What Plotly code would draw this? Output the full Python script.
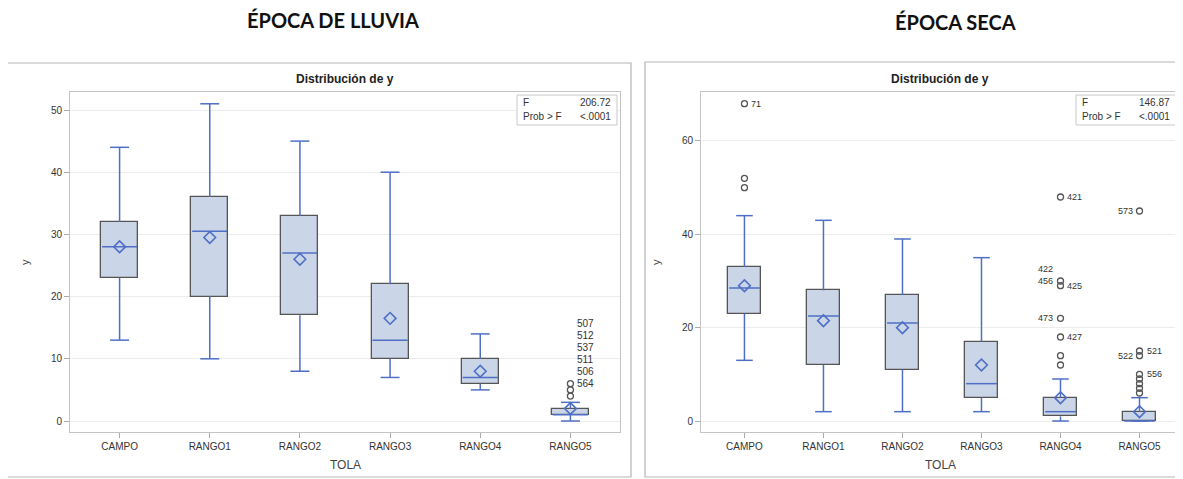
import plotly.graph_objects as go

W, H = 1183, 479
OFF = 8  # page body margin
FW, FH = W - OFF, H - OFF

categories = ["CAMPO", "RANGO1", "RANGO2", "RANGO3", "RANGO4", "RANGO5"]

# ÉPOCA DE LLUVIA
lluvia_max = [44, 51, 45, 40, 14, 3]
lluvia_q3 = [32, 36, 33, 22, 10, 2]
lluvia_med = [28, 30.5, 27, 13, 7, 1]
lluvia_mean = [28, 29.5, 26, 16.5, 8, 2]
lluvia_q1 = [23, 20, 17, 10, 6, 1]
lluvia_min = [13, 10, 8, 7, 5, 0]
lluvia_out_cat = [5, 5, 5]
lluvia_out_val = [4, 5, 6]
lluvia_lab_cat = [5, 5, 5, 5, 5, 5]
lluvia_lab_val = [6, 6, 6, 6, 6, 6]
lluvia_lab_txt = ["564", "506", "511", "537", "512", "507"]
lluvia_lab_side = ["r", "r", "r", "r", "r", "r"]
lluvia_lab_stack = [0, 1, 2, 3, 4, 5]
lluvia_F = "206.72"

# ÉPOCA SECA
seca_max = [44, 43, 39, 35, 9, 5]
seca_q3 = [33, 28, 27, 17, 5, 2]
seca_med = [28.5, 22.5, 21, 8, 2, 0]
seca_mean = [29, 21.5, 20, 12, 5, 2]
seca_q1 = [23, 12, 11, 5, 1, 0]
seca_min = [13, 2, 2, 2, 0, 0]
seca_out_cat = [0, 0, 0, 4, 4, 4, 4, 4, 4, 4, 5, 5, 5, 5, 5, 5, 5, 5]
seca_out_val = [50, 52, 68, 12, 14, 18, 22, 29, 30, 48, 6, 7, 8, 9, 10, 14, 15, 45]
seca_lab_cat = [0, 4, 4, 4, 4, 4, 4, 5, 5, 5, 5]
seca_lab_val = [68, 48, 30, 30, 29, 22, 18, 45, 14, 15, 10]
seca_lab_txt = ["71", "421", "422", "456", "425", "473", "427", "573", "522", "521", "556"]
seca_lab_side = ["r", "r", "l", "l", "r", "l", "r", "l", "l", "r", "r"]
seca_lab_stack = [0, 0, 1, 0, 0, 0, 0, 0, 0, 0, 0]
seca_F = "146.87"

BLUE = "#4f6fc6"
FILL = "#cad5e7"
DARK = "#555555"
AXC = "#c4c4c4"
FONT = "Liberation Sans, Arial, sans-serif"

fig = go.Figure()

BOXW = 0.41
CAPW = 0.21


def add_panel(xa, ya, mx, q3, md, mn, q1, lo, out_c, out_v):
    idx = list(range(len(categories)))
    fig.add_trace(go.Bar(x=idx, y=[a - b for a, b in zip(q3, q1)], base=q1, width=BOXW,
                         marker=dict(color=FILL, line=dict(color=DARK, width=1.3)),
                         xaxis=xa, yaxis=ya, showlegend=False, hoverinfo="skip"))
    wx, wy = [], []
    for i in idx:
        wx += [i, i, None, i, i, None]
        wy += [q3[i], mx[i], None, q1[i], lo[i], None]
        wx += [i - CAPW / 2, i + CAPW / 2, None, i - CAPW / 2, i + CAPW / 2, None]
        wy += [mx[i], mx[i], None, lo[i], lo[i], None]
        wx += [i - BOXW / 2 + 0.01, i + BOXW / 2 - 0.01, None]
        wy += [md[i], md[i], None]
    fig.add_trace(go.Scatter(x=wx, y=wy, mode="lines", line=dict(color=BLUE, width=1.5),
                             xaxis=xa, yaxis=ya, showlegend=False, hoverinfo="skip"))
    fig.add_trace(go.Scatter(x=idx, y=mn, mode="markers",
                             marker=dict(symbol="diamond-open", size=9, color=BLUE,
                                         line=dict(width=1.6, color=BLUE)),
                             xaxis=xa, yaxis=ya, showlegend=False, hoverinfo="skip"))
    fig.add_trace(go.Scatter(x=out_c, y=out_v, mode="markers",
                             marker=dict(symbol="circle-open", size=6, color=DARK,
                                         line=dict(width=1.3, color=DARK)),
                             xaxis=xa, yaxis=ya, showlegend=False, hoverinfo="skip"))


add_panel("x", "y", lluvia_max, lluvia_q3, lluvia_med, lluvia_mean, lluvia_q1, lluvia_min,
          lluvia_out_cat, lluvia_out_val)
add_panel("x2", "y2", seca_max, seca_q3, seca_med, seca_mean, seca_q1, seca_min,
          seca_out_cat, seca_out_val)


def px(x):
    return (x - OFF) / FW


def py(y):
    return 1 - (y - OFF) / FH


annotations = []
shapes = []


def labels(xr, yr, cats, vals, txts, sides, stacks, size):
    for c, v, t, s, k in zip(cats, vals, txts, sides, stacks):
        annotations.append(dict(x=c, y=v, xref=xr, yref=yr, text=t, showarrow=False,
                                xanchor="left" if s == "r" else "right",
                                xshift=5 if s == "r" else -5, yshift=k * 12,
                                font=dict(family=FONT, size=size, color="#333333")))


labels("x", "y", lluvia_lab_cat, lluvia_lab_val, lluvia_lab_txt, lluvia_lab_side, lluvia_lab_stack, 10)
labels("x2", "y2", seca_lab_cat, seca_lab_val, seca_lab_txt, seca_lab_side, seca_lab_stack, 9)

# panel layout
panels = [
    dict(xl=70, xr=620, ob=(7, 63, 631, 477), title="ÉPOCA DE LLUVIA", tx=333, ty=20, F=lluvia_F),
    dict(xl=701, xr=1179, ob=(645, 62, 1182, 477), title="ÉPOCA SECA", tx=955, ty=22, F=seca_F),
]
PT, PB = 92, 432

for p in panels:
    x0, y0, x1, y1 = p["ob"]
    shapes.append(dict(type="rect", xref="paper", yref="paper", x0=px(x0), x1=px(x1),
                       y0=py(y1), y1=py(y0), line=dict(color="#b5b5b5", width=1.2)))
    cx = (p["xl"] + p["xr"]) / 2
    annotations.append(dict(x=px(p["tx"]), y=py(p["ty"]), xref="paper", yref="paper",
                            text="<b>" + p["title"] + "</b>", showarrow=False,
                            xanchor="center", yanchor="middle",
                            font=dict(family="Lato, Open Sans, sans-serif", size=20, color="#111111")))
    annotations.append(dict(x=px(cx), y=py(79), xref="paper", yref="paper",
                            text="<b>Distribución de y</b>", showarrow=False,
                            xanchor="center", yanchor="middle",
                            font=dict(family=FONT, size=12, color="#222222")))
    annotations.append(dict(x=px(cx), y=py(465), xref="paper", yref="paper",
                            text="TOLA", showarrow=False, xanchor="center", yanchor="middle",
                            font=dict(family=FONT, size=12, color="#444444")))
    annotations.append(dict(x=px(p["xl"] - 45), y=py(262), xref="paper", yref="paper",
                            text="y", showarrow=False, textangle=-90, xanchor="center", yanchor="middle",
                            font=dict(family=FONT, size=11, color="#444444")))
    # stats box
    bx1 = p["xr"] - 3
    bx0 = bx1 - 100
    by0, by1 = PT + 3, PT + 33
    shapes.append(dict(type="rect", xref="paper", yref="paper", x0=px(bx0), x1=px(bx1),
                       y0=py(by1), y1=py(by0), line=dict(color="#c8c8c8", width=1),
                       fillcolor="white"))
    for row, (a, b) in enumerate([("F", p["F"]), ("Prob > F", "<.0001")]):
        yy = by0 + 8 + row * 14
        annotations.append(dict(x=px(bx0 + 4), y=py(yy), xref="paper", yref="paper", text=a,
                                showarrow=False, xanchor="left", yanchor="middle",
                                font=dict(family=FONT, size=10, color="#333333")))
        annotations.append(dict(x=px(bx1 - 4), y=py(yy), xref="paper", yref="paper", text=b,
                                showarrow=False, xanchor="right", yanchor="middle",
                                font=dict(family=FONT, size=10, color="#333333")))

axis_common = dict(showline=True, mirror=True, linecolor=AXC, linewidth=1, ticks="outside",
                   ticklen=5, tickcolor="#aaaaaa", tickfont=dict(family=FONT, size=10, color="#333333"),
                   zeroline=False, fixedrange=True)

ydom = [py(PB), py(PT)]
fig.update_layout(
    width=FW, height=FH, autosize=False,
    margin=dict(l=0, r=0, t=0, b=0),
    paper_bgcolor="white", plot_bgcolor="white",
    showlegend=False, bargap=0,
    xaxis=dict(domain=[px(70), px(620)], range=[-0.55, 5.55], tickvals=list(range(6)),
               ticktext=categories, showgrid=False, anchor="y", **axis_common),
    yaxis=dict(domain=ydom, range=[-(PB - 421) / 6.22, (421 - PT) / 6.22], dtick=10, tick0=0,
               showgrid=True, gridcolor="#ececec", anchor="x", **axis_common),
    xaxis2=dict(domain=[px(701), px(1179)], range=[-0.55, 5.5], tickvals=list(range(6)),
                ticktext=categories, showgrid=False, anchor="y2", **axis_common),
    yaxis2=dict(domain=ydom, range=[-(PB - 421) / 4.667, (421 - PT) / 4.667], dtick=20, tick0=0,
                showgrid=True, gridcolor="#ececec", anchor="x2", **axis_common),
    annotations=annotations,
    shapes=shapes,
)

fig.write_html("out.html")
